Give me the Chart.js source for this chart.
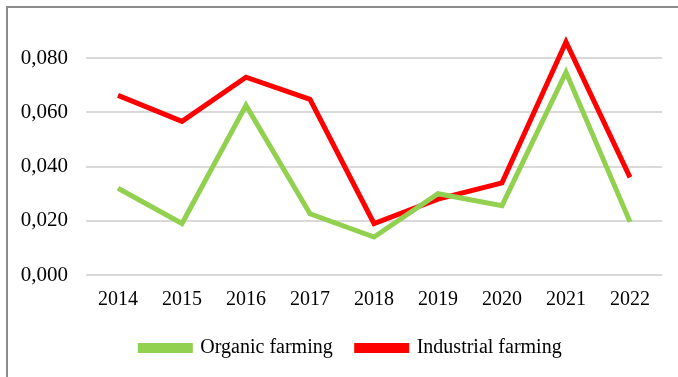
<!DOCTYPE html>
<html>
<head>
    <title>Organic vs Industrial farming</title>
    <script src="https://cdn.jsdelivr.net/npm/chart.js"></script>
    <style>
        body {
            margin: 0;
            background-color: #ffffff;
        }
        #chart-container {
            position: relative;
            width: 678px;
            height: 377px;
        }
        #frame {
            position: absolute;
            left: 6px;
            top: 6px;
            right: 0;
            bottom: 0;
            border-left: 2px solid #8c8c8c;
            border-top: 2px solid #8c8c8c;
            pointer-events: none;
        }
    </style>
</head>
<body>

<div id="chart-container">
    <canvas id="farmChart" width="678" height="377"></canvas>
    <div id="frame"></div>
</div>

<script>
// values
const years = ['2014', '2015', '2016', '2017', '2018', '2019', '2020', '2021', '2022'];
const organic = [0.032, 0.019, 0.0626, 0.0226, 0.014, 0.030, 0.0256, 0.0748, 0.0196];
const industrial = [0.0663, 0.0567, 0.073, 0.0648, 0.019, 0.028, 0.034, 0.086, 0.036];
const yTicks = [0, 0.02, 0.04, 0.06, 0.08];

const serif = 'Liberation Serif';

const ctx = document.getElementById('farmChart').getContext('2d');
new Chart(ctx, {
    type: 'line',
    data: {
        labels: years,
        datasets: [{
            label: 'Organic farming',
            data: organic,
            borderColor: '#92d050',
            backgroundColor: '#92d050',
            borderWidth: 5,
            pointRadius: 0,
            tension: 0
        }, {
            label: 'Industrial farming',
            data: industrial,
            borderColor: '#ff0000',
            backgroundColor: '#ff0000',
            borderWidth: 5,
            pointRadius: 0,
            tension: 0
        }]
    },
    options: {
        responsive: false,
        animation: false,
        // negative right padding lets the legend centre sit further right;
        // the empty right axis below brings the plot edge back to 662
        layout: {
            padding: { top: 4, right: -24, bottom: 9, left: 0 }
        },
        plugins: {
            tooltip: { enabled: false },
            legend: {
                position: 'bottom',
                labels: {
                    font: { family: serif, size: 20 },
                    color: '#000000',
                    boxWidth: 50,
                    boxHeight: 5,
                    padding: 24
                }
            }
        },
        scales: {
            x: {
                offset: true,
                grid: { display: false, drawTicks: false },
                border: { display: false },
                afterFit: function (axis) {
                    axis.height = 39;
                },
                ticks: {
                    font: { family: serif, size: 20 },
                    color: '#000000',
                    padding: 13,
                    maxRotation: 0
                }
            },
            y: {
                min: 0,
                max: 0.1,
                afterBuildTicks: function (axis) {
                    axis.ticks = yTicks.map(v => ({ value: v }));
                },
                afterFit: function (axis) {
                    axis.width = 86;
                    axis.paddingTop = 0;
                    axis.paddingBottom = 0;
                },
                grid: {
                    color: '#d9d9d9',
                    lineWidth: 2,
                    drawTicks: false
                },
                border: { display: false },
                ticks: {
                    font: { family: serif, size: 21 },
                    color: '#000000',
                    padding: 18,
                    callback: function (value) {
                        return value.toFixed(3).replace('.', ',');
                    }
                }
            },
            spacer: {
                type: 'linear',
                position: 'right',
                grid: { display: false, drawTicks: false },
                border: { display: false },
                ticks: { display: false },
                afterFit: function (axis) {
                    axis.width = 40;
                    axis.paddingTop = 0;
                    axis.paddingBottom = 0;
                }
            }
        }
    }
});
</script>

</body>
</html>
